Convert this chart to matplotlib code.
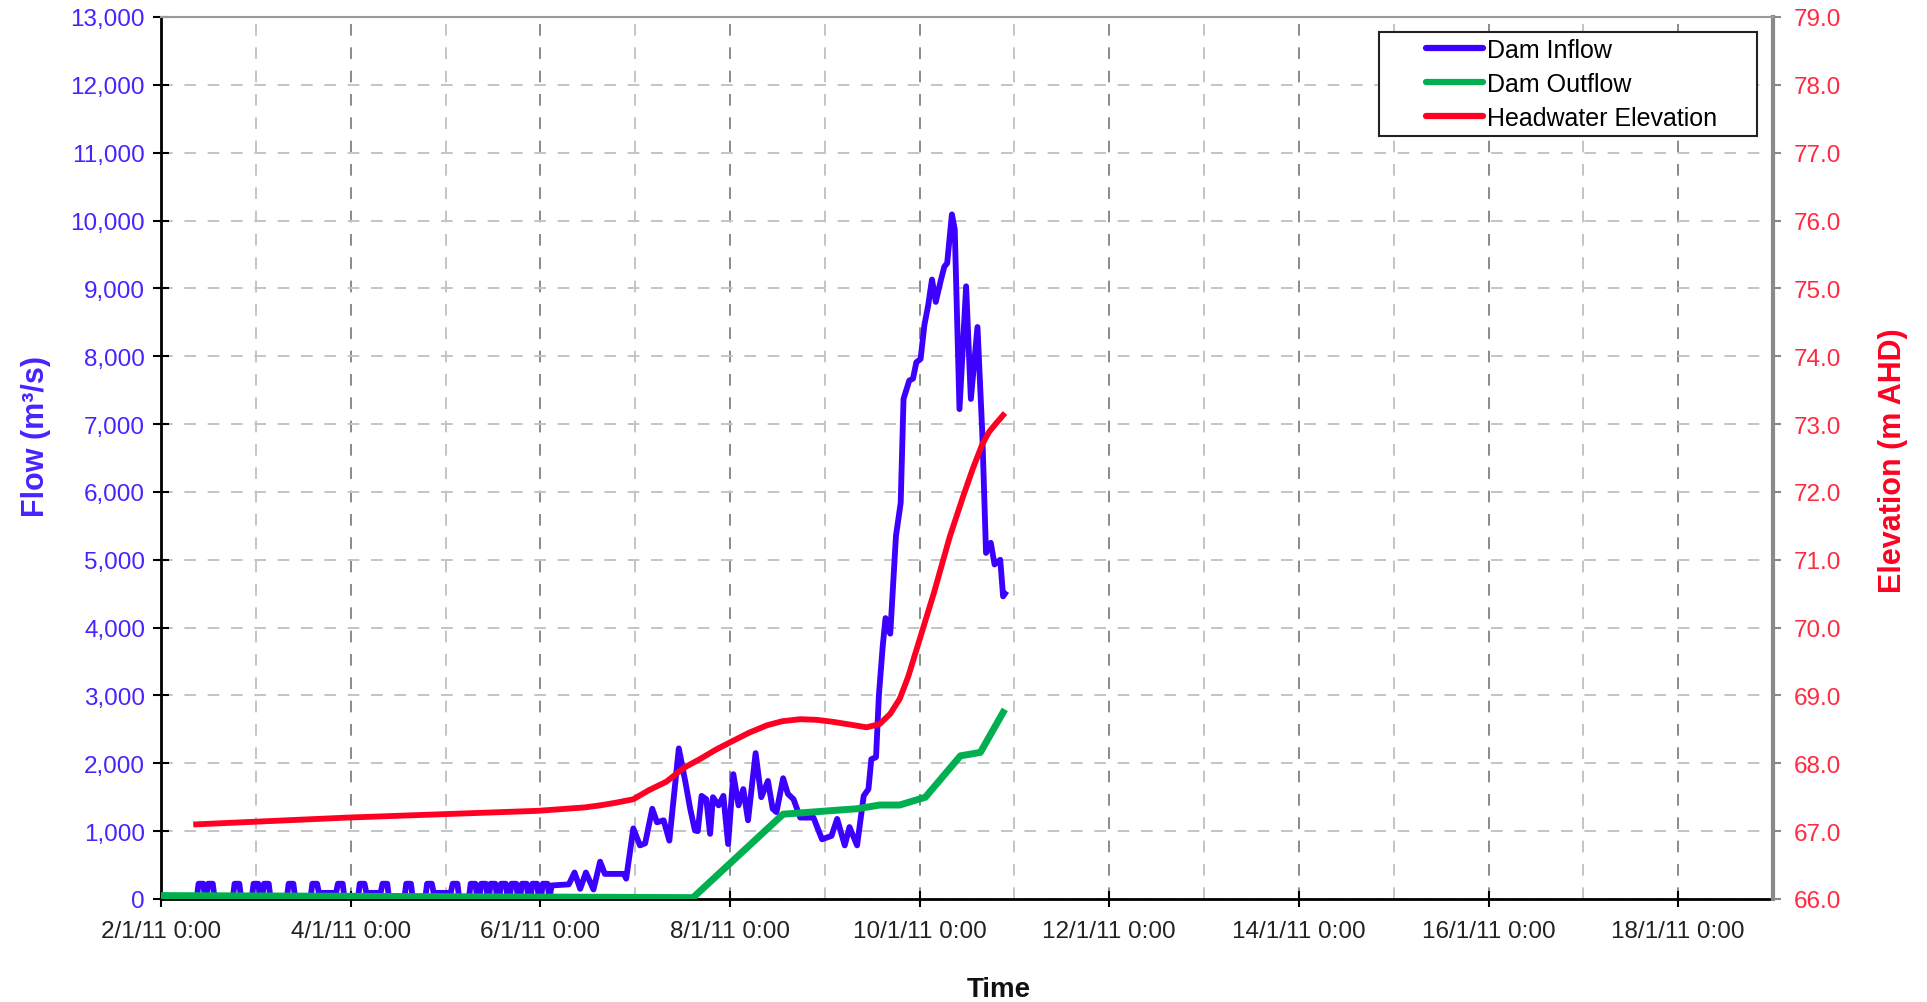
import datetime as dt

import matplotlib
matplotlib.use('Agg')
import matplotlib.pyplot as plt
import matplotlib.dates as mdate
from matplotlib.ticker import FixedLocator, FuncFormatter, MultipleLocator
import numpy as np

# time axis is in days after 2/1/11 0:00
start = dt.datetime(2011, 1, 2)
x_range = (0, 17)
label_days = [0, 2, 4, 6, 8, 10, 12, 14, 16]

inflow_day = [
    0.00, 0.375, 0.395, 0.445, 0.465,
    0.475, 0.495, 0.545, 0.565,
    0.755, 0.775, 0.825, 0.845,
    0.955, 0.975, 1.025, 1.045,
    1.065, 1.085, 1.135, 1.155,
    1.325, 1.345, 1.395, 1.415,
    1.575, 1.595, 1.645, 1.665, 1.845, 1.865, 1.915, 1.935,
    2.075, 2.095, 2.145, 2.165, 2.315, 2.335, 2.385, 2.405,
    2.565, 2.585, 2.635, 2.655,
    2.785, 2.805, 2.855, 2.875, 3.055, 3.075, 3.125, 3.145,
    3.245, 3.265, 3.315, 3.335,
    3.355, 3.375, 3.425, 3.445,
    3.455, 3.475, 3.525, 3.545,
    3.565, 3.585, 3.635, 3.655,
    3.675, 3.695, 3.745, 3.765,
    3.785, 3.805, 3.855, 3.875,
    3.895, 3.915, 3.965, 3.985,
    4.005, 4.025, 4.075, 4.095,
    4.12, 4.30, 4.36, 4.42, 4.48, 4.56, 4.63, 4.68, 4.88, 4.905,
    4.98, 5.05, 5.105, 5.18, 5.23, 5.30, 5.36, 5.46, 5.53, 5.58,
    5.63, 5.66, 5.70, 5.75, 5.79, 5.82, 5.88, 5.93, 5.98, 6.035,
    6.09, 6.14, 6.19, 6.27, 6.33, 6.40, 6.45, 6.49, 6.56, 6.61,
    6.67, 6.74, 6.88, 6.97, 7.07, 7.13, 7.21, 7.26, 7.34, 7.41,
    7.46, 7.49, 7.54, 7.57, 7.61, 7.64, 7.69, 7.75, 7.80, 7.83,
    7.89, 7.93, 7.965, 8.01, 8.05, 8.09, 8.13, 8.17, 8.22, 8.26,
    8.29, 8.34, 8.37, 8.42, 8.49, 8.54, 8.61, 8.66, 8.70, 8.75,
    8.79, 8.85, 8.88, 8.90,
]
inflow_cms = [
    0, 0, 225, 225, 0,
    0, 225, 225, 0,
    0, 225, 225, 0,
    0, 225, 225, 0,
    0, 225, 225, 0,
    0, 225, 225, 0,
    0, 225, 225, 90, 90, 225, 225, 0,
    0, 225, 225, 90, 90, 225, 225, 0,
    0, 225, 225, 0,
    0, 225, 225, 90, 90, 225, 225, 0,
    0, 225, 225, 0,
    0, 225, 225, 0,
    0, 225, 225, 0,
    0, 225, 225, 0,
    0, 225, 225, 0,
    0, 225, 225, 0,
    0, 225, 225, 0,
    0, 225, 225, 20,
    200, 215, 390, 150, 390, 140, 550, 370, 370, 300,
    1040, 790, 820, 1330, 1130, 1160, 860, 2220, 1720, 1330,
    1010, 1000, 1520, 1470, 960, 1500, 1380, 1520, 810, 1840,
    1380, 1620, 1160, 2150, 1500, 1740, 1330, 1280, 1780, 1550,
    1470, 1200, 1200, 880, 930, 1180, 790, 1060, 790, 1520,
    1620, 2060, 2090, 3000, 3720, 4140, 3910, 5350, 5840, 7370,
    7640, 7670, 7910, 7960, 8460, 8750, 9130, 8800, 9100, 9320,
    9370, 10090, 9870, 7220, 9030, 7370, 8430, 6880, 5100, 5250,
    4930, 5000, 4460, 4500,
]

outflow_day = [0.0, 5.61, 6.56, 7.34, 7.58, 7.79, 8.06, 8.43, 8.64, 8.88]
outflow_cms = [50, 20, 1250, 1330, 1385, 1385, 1500, 2110, 2160, 2750]

level_day = [0.37, 1.97, 3.98, 4.47, 4.63, 4.80, 4.98, 5.14, 5.33, 5.51,
             5.68, 5.85, 6.03, 6.20, 6.39, 6.55, 6.74, 6.92, 7.09, 7.27,
             7.44, 7.58, 7.69, 7.79, 7.88, 7.97, 8.15, 8.32, 8.46, 8.56,
             8.66, 8.73, 8.80, 8.88]
level_mahd = [67.10, 67.20, 67.30, 67.35, 67.38, 67.42, 67.47, 67.60, 67.73, 67.93,
              68.06, 68.20, 68.33, 68.45, 68.56, 68.62, 68.65, 68.64, 68.61, 68.57,
              68.53, 68.58, 68.73, 68.95, 69.28, 69.69, 70.51, 71.35, 71.94, 72.34,
              72.70, 72.88, 73.00, 73.13]

BLUE = '#3c00ff'
GREEN = '#00b050'
RED = '#ff0022'
BLUE_TXT = '#4a22ff'
RED_TXT = '#ff2a40'

plt.rcParams['font.family'] = ['Liberation Sans', 'DejaVu Sans']

t0 = mdate.date2num(start)


def as_date(days):
    return t0 + np.asarray(days, dtype=float)


def fmt_date(v, pos=None):
    d = mdate.num2date(v)
    return '%d/%d/%s %d:%02d' % (d.day, d.month, d.strftime('%y'), d.hour, d.minute)


fig = plt.figure(figsize=(19.27, 10.03), dpi=100)
ax = fig.add_axes([0.0836, 0.1027, 0.8365, 0.8794])
ax2 = ax.twinx()

ln1, = ax.plot(as_date(inflow_day), inflow_cms, color=BLUE, lw=4.2,
               solid_joinstyle='round', label='Dam Inflow', zorder=3)
ln2, = ax.plot(as_date(outflow_day), outflow_cms, color=GREEN, lw=5.0,
               solid_joinstyle='round', label='Dam Outflow', zorder=4)
ln3, = ax2.plot(as_date(level_day), level_mahd, color=RED, lw=4.2,
                solid_joinstyle='round', label='Headwater Elevation', zorder=5)

ax.set_xlim(as_date(x_range))
ax.set_ylim(0, 13000)
ax2.set_ylim(66, 79)

# x axis: labels every 2 days, grid every day
ax.xaxis.set_major_locator(FixedLocator(as_date(label_days)))
ax.xaxis.set_minor_locator(FixedLocator(as_date(range(1, 17, 2))))
ax.xaxis.set_major_formatter(FuncFormatter(fmt_date))
ax.yaxis.set_major_locator(MultipleLocator(1000))
ax.yaxis.set_major_formatter(FuncFormatter(lambda v, p: '{:,.0f}'.format(v)))
ax2.yaxis.set_major_locator(MultipleLocator(1.0))
ax2.yaxis.set_major_formatter(FuncFormatter(lambda v, p: '%.1f' % v))

ax.grid(axis='y', which='major', color='#c4c4c4', lw=1.4, ls=(0, (6, 6)))
ax.grid(axis='x', which='major', color='#8a8a8a', lw=1.4, ls=(0, (6, 6)))
ax.grid(axis='x', which='minor', color='#c4c4c4', lw=1.4, ls=(0, (6, 6)))
ax.set_axisbelow(True)

ax.tick_params(axis='x', which='major', direction='inout', length=12, width=1.5,
               color='black', labelsize=17.5, labelcolor='#222222', pad=9)
ax.tick_params(axis='x', which='minor', length=0)
ax.tick_params(axis='y', direction='inout', length=11, width=1.5, color='black',
               labelsize=17.5, labelcolor=BLUE_TXT, pad=6)
ax2.tick_params(axis='y', direction='out', length=6, width=1.5, color='#8a8a8a',
                labelsize=17.5, labelcolor=RED_TXT, pad=9)

for s in ('left', 'bottom'):
    ax.spines[s].set_linewidth(2)
    ax.spines[s].set_color('black')
ax2.spines['left'].set_visible(False)
ax2.spines['bottom'].set_visible(False)
ax2.spines['top'].set_color('#9a9a9a')
ax2.spines['top'].set_linewidth(1.5)
ax2.spines['right'].set_color('#8a8a8a')
ax2.spines['right'].set_linewidth(3)
ax.spines['top'].set_visible(False)
ax.spines['right'].set_visible(False)

ax.set_ylabel('Flow (m³/s)', fontsize=22, fontweight='bold', color=BLUE_TXT)
ax.yaxis.set_label_coords(-0.068, 0.526)
ax2.set_ylabel('Elevation (m AHD)', fontsize=22, fontweight='bold', color=RED,
               rotation=90)
ax2.yaxis.set_label_coords(1.065, 0.498)
ax.set_xlabel('Time', fontsize=20, fontweight='bold', color='#111111')
ax.xaxis.set_label_coords(0.520, -0.0875)

leg = ax2.legend(handles=[ln1, ln2, ln3], loc='upper left',
                 bbox_to_anchor=(0.7556, 0.5, 0.2345, 0.483), mode='expand',
                 borderaxespad=0, fontsize=18, handlelength=3.9, handletextpad=0.15,
                 borderpad=0.25, labelspacing=0.4, fancybox=False, framealpha=1)
leg.get_frame().set_edgecolor('#222222')
leg.get_frame().set_linewidth(1.5)
# short legend lines, set in from the left edge of the box
for hl in leg.get_lines():
    xd = np.asarray(hl.get_xdata(), dtype=float)
    yd = np.asarray(hl.get_ydata(), dtype=float)
    x_in = xd[0] + (xd[-1] - xd[0]) * 0.42
    hl.set_data([x_in, xd[-1]], [yd[0], yd[-1]])
    hl.set_linewidth(4.5)
    hl.set_solid_capstyle('round')

fig.savefig('out.png', dpi=100)
